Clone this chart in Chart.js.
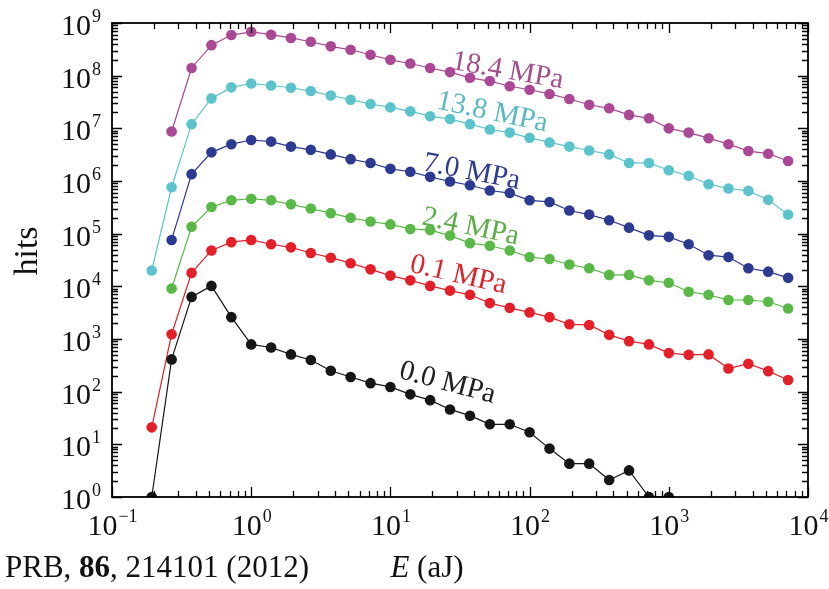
<!DOCTYPE html>
<html>
<head>
<meta charset="utf-8">
<title>Acoustic emission hits vs. energy</title>
<script src="https://cdn.jsdelivr.net/npm/chart.js@4.4.1/dist/chart.umd.min.js"></script>
<style>
  html, body { margin: 0; padding: 0; background: #fff; }
  canvas { display: block; }
</style>
</head>
<body>
<canvas id="c" width="829" height="589"></canvas>
<script>
// Energy bins (aJ), seven per decade
const energies = [0.193, 0.268, 0.373, 0.518, 0.720, 1.0, 1.39, 1.93, 2.68, 3.73, 5.18, 7.20,
  10, 13.9, 19.3, 26.8, 37.3, 51.8, 72.0, 100, 139, 193, 268, 373, 518, 720,
  1000, 1389, 1931, 2683, 3728, 5179, 7197];

// Hits per energy bin for each applied pressure
const hits184 = [null, 8.7e6, 1.4e8, 3.8e8, 5.9e8, 6.8e8, 6.0e8, 5.2e8, 4.4e8, 3.6e8, 3.1e8,
  2.5e8, 2.0e8, 1.7e8, 1.4e8, 1.17e8, 9.1e7, 7.9e7, 6.3e7, 5.4e7, 4.5e7, 3.6e7, 2.8e7,
  2.4e7, 1.8e7, 1.55e7, 1.0e7, 8.3e6, 6.5e6, 5.0e6, 3.7e6, 3.3e6, 2.4e6];
const hits138 = [2.0e4, 7.6e5, 1.2e7, 3.7e7, 6.0e7, 7.1e7, 6.5e7, 5.9e7, 5.1e7, 4.2e7, 3.5e7,
  2.9e7, 2.5e7, 2.1e7, 1.7e7, 1.5e7, 1.2e7, 9.5e6, 8.3e6, 6.6e6, 5.4e6, 4.5e6, 3.8e6,
  3.2e6, 2.2e6, 2.2e6, 1.6e6, 1.26e6, 8.7e5, 7.2e5, 6.5e5, 4.4e5, 2.3e5];
const hits70 = [null, 7.6e4, 1.35e6, 3.5e6, 5.0e6, 6.0e6, 5.6e6, 4.5e6, 3.9e6, 3.2e6, 2.6e6,
  2.2e6, 1.7e6, 1.5e6, 1.2e6, 9.8e5, 8.3e5, 6.6e5, 5.9e5, 4.3e5, 4.0e5, 2.75e5, 2.3e5,
  1.8e5, 1.3e5, 9.3e4, 8.7e4, 6.3e4, 3.9e4, 3.6e4, 2.2e4, 1.9e4, 1.45e4];
const hits24 = [null, 9.1e3, 1.35e5, 3.2e5, 4.3e5, 4.6e5, 4.3e5, 3.6e5, 3.0e5, 2.45e5, 2.0e5,
  1.7e5, 1.5e5, 1.23e5, 1.17e5, 9.2e4, 6.6e4, 5.9e4, 4.8e4, 3.6e4, 3.3e4, 2.6e4, 2.2e4,
  1.65e4, 1.65e4, 1.3e4, 1.17e4, 7.9e3, 6.9e3, 5.5e3, 5.5e3, 5.1e3, 3.8e3];
const hits01 = [21, 1230, 1.8e4, 4.8e4, 6.9e4, 7.6e4, 6.3e4, 5.5e4, 4.3e4, 3.5e4, 2.75e4,
  2.1e4, 1.6e4, 1.3e4, 1.02e4, 8.3e3, 6.9e3, 4.8e3, 3.9e3, 3.2e3, 2.6e3, 1.9e3, 1.85e3,
  1.2e3, 910, 790, 540, 500, 510, 275, 340, 245, 166];
const hits00 = [1, 410, 6300, 10200, 2600, 790, 690, 510, 400, 250, 190, 145, 123, 89, 69,
  46, 35, 24, 24, 17, 8.3, 4.3, 4.3, 2.1, 3.2, 1, 1, null, null, null, null, null, null];

// Curve labels and where they sit (in data coordinates)
const seriesNames = ['18.4 MPa', '13.8 MPa', '7.0 MPa', '2.4 MPa', '0.1 MPa', '0.0 MPa'];
const seriesColors = ['#aa4896', '#5cc3cd', '#2c3a92', '#5ab848', '#e3202a', '#161616'];
const labelColors = ['#a4508f', '#5bb9c6', '#2f3b8c', '#5dae48', '#d9262c', '#202020'];
const labelAt = [[69.5, 1.23e8], [54, 2.0e7], [38.3, 1.48e6], [37.7, 1.34e5], [30.8, 1.64e4], [25.7, 146]];
const labelAngle = [10, 12, 11, 12, 13, 15];

// Axis decades
const xExponents = ['-1', '0', '1', '2', '3', '4'];
const yExponents = ['0', '1', '2', '3', '4', '5', '6', '7', '8', '9'];

const seriesHits = [hits184, hits138, hits70, hits24, hits01, hits00];

function points(vals) {
  return energies.map((e, i) => ({ x: e, y: vals[i] }));
}

const SERIF = '"Liberation Serif", "DejaVu Serif", serif';

const framePlugin = {
  id: 'frame',
  afterDatasetsDraw(chart) {
    const { ctx, chartArea: a, scales } = chart;
    const xs = scales.x, ys = scales.y;
    ctx.save();

    // curve labels
    seriesNames.forEach((name, i) => {
      const px = xs.getPixelForValue(labelAt[i][0]);
      const py = ys.getPixelForValue(labelAt[i][1]);
      ctx.save();
      ctx.translate(px, py);
      ctx.rotate(labelAngle[i] * Math.PI / 180);
      ctx.font = '29px ' + SERIF;
      ctx.fillStyle = labelColors[i];
      ctx.textAlign = 'center';
      ctx.textBaseline = 'middle';
      ctx.fillText(name, 0, 0);
      ctx.restore();
    });

    // frame
    ctx.strokeStyle = '#000';
    ctx.lineWidth = 1.8;
    ctx.strokeRect(a.left, a.top, a.right - a.left, a.bottom - a.top);

    // inward ticks on all four sides
    ctx.lineWidth = 1.3;
    ctx.beginPath();
    xExponents.forEach(ex => {
      const e = Number(ex);
      for (let m = 1; m <= 9; m++) {
        const v = m * Math.pow(10, e);
        if (v > xs.max * 1.0001) break;
        const p = Math.round(xs.getPixelForValue(v)) + 0.5;
        const len = m === 1 ? 10 : 6;
        ctx.moveTo(p, a.bottom); ctx.lineTo(p, a.bottom - len);
        ctx.moveTo(p, a.top); ctx.lineTo(p, a.top + len);
      }
    });
    yExponents.forEach(ex => {
      const e = Number(ex);
      for (let m = 1; m <= 9; m++) {
        const v = m * Math.pow(10, e);
        if (v > ys.max * 1.0001) break;
        const p = Math.round(ys.getPixelForValue(v)) + 0.5;
        const len = m === 1 ? 10 : 6;
        ctx.moveTo(a.left, p); ctx.lineTo(a.left + len, p);
        ctx.moveTo(a.right, p); ctx.lineTo(a.right - len, p);
      }
    });
    ctx.stroke();

    // tick labels: 10 with a raised exponent
    ctx.fillStyle = '#111';
    ctx.textBaseline = 'alphabetic';
    const baseFont = '30px ' + SERIF;
    const supFont = '18px ' + SERIF;
    xExponents.forEach(ex => {
      const p = xs.getPixelForValue(Math.pow(10, Number(ex)));
      const sup = ex.replace('-', '\u2212');
      ctx.font = baseFont; const wb = ctx.measureText('10').width;
      ctx.font = supFont; const ws = ctx.measureText(sup).width;
      const x0 = p - (wb + ws) / 2;
      ctx.font = baseFont; ctx.textAlign = 'left';
      ctx.fillText('10', x0, 535);
      ctx.font = supFont;
      ctx.fillText(sup, x0 + wb + 1, 522);
    });
    yExponents.forEach(ex => {
      const p = ys.getPixelForValue(Math.pow(10, Number(ex)));
      ctx.font = supFont; const ws = ctx.measureText(ex).width;
      ctx.textAlign = 'left';
      ctx.fillText(ex, 101 - ws, p - 1);
      ctx.font = baseFont; ctx.textAlign = 'right';
      ctx.fillText('10', 100 - ws, p + 12);
    });

    // axis titles
    ctx.save();
    ctx.translate(37, 251);
    ctx.rotate(-Math.PI / 2);
    ctx.font = '34px ' + SERIF;
    ctx.textAlign = 'center';
    ctx.fillText('hits', 0, 0);
    ctx.restore();

    ctx.textAlign = 'left';
    ctx.font = 'italic 31px ' + SERIF;
    const wE = ctx.measureText('E').width;
    ctx.font = '31px ' + SERIF;
    const wRest = ctx.measureText(' (aJ)').width;
    const ex0 = 427 - (wE + wRest) / 2;
    ctx.font = 'italic 31px ' + SERIF;
    ctx.fillText('E', ex0, 577);
    ctx.font = '31px ' + SERIF;
    ctx.fillText(' (aJ)', ex0 + wE, 577);

    // source reference
    const parts = [['PRB, ', ''], ['86', 'bold '], [', 214101 (2012)', '']];
    let cx = 5;
    parts.forEach(([t, w]) => {
      ctx.font = w + '31px ' + SERIF;
      ctx.fillText(t, cx, 577);
      cx += ctx.measureText(t).width;
    });
    ctx.restore();
  }
};

new Chart(document.getElementById('c'), {
  type: 'line',
  data: {
    datasets: seriesNames.map((name, i) => ({
      label: name,
      data: points(seriesHits[i]),
      borderColor: seriesColors[i],
      backgroundColor: seriesColors[i],
      pointBackgroundColor: seriesColors[i],
      pointBorderWidth: 0,
      pointRadius: 5.3,
      borderWidth: 1.2,
      tension: 0,
      spanGaps: false
    })).reverse()
  },
  options: {
    responsive: false,
    devicePixelRatio: 1,
    animation: false,
    layout: { padding: { left: 112, top: 23, right: 21, bottom: 92 }, autoPadding: false },
    plugins: { legend: { display: false }, tooltip: { enabled: false } },
    scales: {
      x: {
        type: 'logarithmic', min: 0.1, max: 10000,
        ticks: { display: false }, grid: { display: false, drawTicks: false },
        border: { display: false },
        afterFit(s) { s.height = 0; }
      },
      y: {
        type: 'logarithmic', min: 1, max: 1e9,
        ticks: { display: false }, grid: { display: false, drawTicks: false },
        border: { display: false },
        afterFit(s) { s.width = 0; }
      }
    }
  },
  plugins: [framePlugin]
});
</script>
</body>
</html>
